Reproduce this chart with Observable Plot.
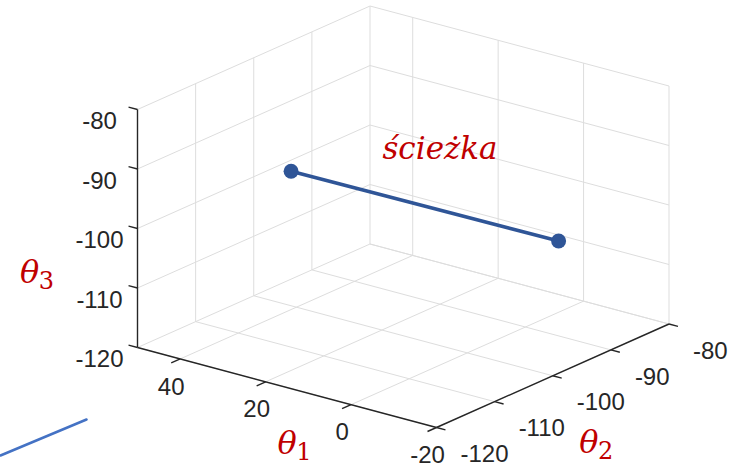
<!DOCTYPE html>
<html><head><meta charset="utf-8">
<script src="https://cdn.jsdelivr.net/npm/d3@7"></script>
<script src="https://cdn.jsdelivr.net/npm/@observablehq/plot@0.6"></script>
<style>html,body{margin:0;padding:0;background:#fff;} #chart svg{display:block;}</style>
</head><body><div id="chart"></div>
<script>
// ---- data ----
const theta1Limits = [-20, 50];
const theta2Limits = [-120, -80];
const theta3Limits = [-120, -80];
const theta1Ticks = [40, 20, 0, -20];
const theta2Ticks = [-120, -110, -100, -90, -80];
const theta3Ticks = [-80, -90, -100, -110, -120];
// path endpoints (θ1, θ2, θ3)
const pathTheta1 = [35, -3];
const pathTheta2 = [-104.6, -86.5];
const pathTheta3 = [-94.2, -106.5];
// annotation
const annotationText = ["ścieżka"];
const annotationPos = [[20, -90, -94]];
// axis labels
const axisLabelSymbol = ["θ", "θ", "θ"];
const axisLabelSub = ["1", "2", "3"];
// stray segment at lower-left (page coordinates)
const strayX = [0, 86];
const strayY = [455, 419];

// ---- view (orthographic projection of the box) ----
const view = {origin: [137, 347], e1: [299, 80], e2: [232.5, -103.5], e3: [0, -238]};
function project(t1, t2, t3) {
  const u = (theta1Limits[1] - t1) / (theta1Limits[1] - theta1Limits[0]);
  const v = (t2 - theta2Limits[0]) / (theta2Limits[1] - theta2Limits[0]);
  const w = (t3 - theta3Limits[0]) / (theta3Limits[1] - theta3Limits[0]);
  return [view.origin[0] + u * view.e1[0] + v * view.e2[0] + w * view.e3[0],
          view.origin[1] + u * view.e1[1] + v * view.e2[1] + w * view.e3[1]];
}
function seg(a, b) { const p = project(...a), q = project(...b); return {x1: p[0], y1: p[1], x2: q[0], y2: q[1]}; }

const [a0, a1] = theta1Limits, [b0, b1] = theta2Limits, [c0, c1] = theta3Limits;
const a1max = a1, a1min = a0;

// grid
const grid = [];
for (const b of theta2Ticks) grid.push(seg([a1max, b, c0], [a1max, b, c1]));
for (const c of theta3Ticks) grid.push(seg([a1max, b0, c], [a1max, b1, c]));
for (const a of theta1Ticks) grid.push(seg([a, b1, c0], [a, b1, c1]));
for (const c of theta3Ticks) grid.push(seg([a1max, b1, c], [a1min, b1, c]));
for (const a of theta1Ticks) grid.push(seg([a, b0, c0], [a, b1, c0]));
for (const b of theta2Ticks) grid.push(seg([a1max, b, c0], [a1min, b, c0]));

// axes
const axes = [
  seg([a1max, b0, c0], [a1max, b0, c1]),
  seg([a1max, b0, c0], [a1min, b0, c0]),
  seg([a1min, b0, c0], [a1min, b1, c0])
];
// ticks (outward)
const ticks = [];
for (const c of theta3Ticks) ticks.push(seg([a1max, b0, c], [a1max + 2.1, b0, c]));
for (const a of theta1Ticks) ticks.push(seg([a, b0, c0], [a, b0 - 1.55, c0]));
for (const b of theta2Ticks) ticks.push(seg([a1min, b, c0], [a1min - 2.1, b, c0]));

const fmt = v => String(v);
const zLabels = theta3Ticks.map(c => { const p = project(a1max, b0, c); return {x: p[0], y: p[1], t: fmt(c)}; });
const xLabels = theta1Ticks.map(a => { const p = project(a, b0, c0); return {x: p[0], y: p[1], t: fmt(a)}; });
const yLabels = theta2Ticks.map(b => { const p = project(a1min, b, c0); return {x: p[0], y: p[1], t: fmt(b)}; });

const path = pathTheta1.map((t, i) => { const p = project(t, pathTheta2[i], pathTheta3[i]); return {x: p[0], y: p[1]}; });
const ann = annotationText.map((t, i) => { const p = project(...annotationPos[i]); return {x: p[0], y: p[1], t}; });

const labAnchors = [
  project((a0 + a1) / 2, b0, c0),
  project(a1min, (b0 + b1) / 2, c0),
  project(a1max, b0, (c0 + c1) / 2)
];
const labOffsets = [[0, 56], [36, 67], [-108, 44]];
const labels = labAnchors.map((p, i) => ({x: p[0] + labOffsets[i][0], y: p[1] + labOffsets[i][1], s: axisLabelSymbol[i], sub: axisLabelSub[i]}));
const stray = strayX.map((x, i) => ({x, y: strayY[i]}));

const tickFont = "Liberation Sans, Arial, Helvetica, sans-serif";
const red = "#c00000";
const blue = "#2f5597";

const chart = Plot.plot({
  width: 743, height: 466, margin: 0,
  x: {domain: [0, 743], range: [0, 743], axis: null},
  y: {domain: [0, 466], range: [0, 466], axis: null},
  style: {background: "white", overflow: "visible"},
  marks: [
    Plot.link(grid, {x1: "x1", y1: "y1", x2: "x2", y2: "y2", stroke: "#dddddd", strokeWidth: 1}),
    Plot.link(axes, {x1: "x1", y1: "y1", x2: "x2", y2: "y2", stroke: "#262626", strokeWidth: 1.4}),
    Plot.link(ticks, {x1: "x1", y1: "y1", x2: "x2", y2: "y2", stroke: "#262626", strokeWidth: 1.4}),
    Plot.text(zLabels, {x: "x", y: "y", text: "t", dx: -38, dy: 12, textAnchor: "middle", fontSize: 24, fontFamily: tickFont, fill: "#262626"}),
    Plot.text(xLabels, {x: "x", y: "y", text: "t", dx: -9, dy: 28, textAnchor: "middle", fontSize: 24, fontFamily: tickFont, fill: "#262626"}),
    Plot.text(yLabels, {x: "x", y: "y", text: "t", dx: 24, dy: 27, textAnchor: "start", fontSize: 24, fontFamily: tickFont, fill: "#262626"}),
    Plot.line(path, {x: "x", y: "y", stroke: blue, strokeWidth: 3.5}),
    Plot.dot(path, {x: "x", y: "y", r: 7.5, fill: blue, stroke: "none"}),
    Plot.text(ann, {x: "x", y: "y", text: "t", fontSize: 31, fontStyle: "italic", fontFamily: "DejaVu Serif, serif", fill: red, textAnchor: "middle", letterSpacing: 1.5}),
    Plot.text(labels, {x: "x", y: "y", text: "s", fontSize: 32, fontStyle: "italic", fontFamily: "DejaVu Serif, serif", fill: red, textAnchor: "middle"}),
    Plot.text(labels, {x: "x", y: "y", text: "sub", dx: 17, dy: 9, fontSize: 24, fontFamily: "DejaVu Serif, serif", fill: red, textAnchor: "middle"}),
    Plot.line(stray, {x: "x", y: "y", stroke: "#4472c4", strokeWidth: 2.5})
  ]
});
document.getElementById("chart").append(chart);
</script></body></html>
